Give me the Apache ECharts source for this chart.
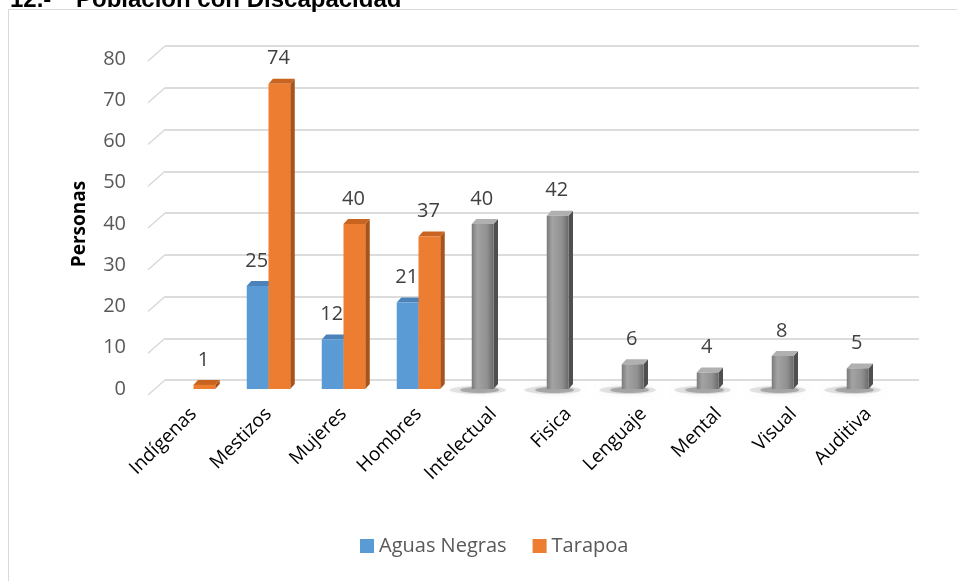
<!DOCTYPE html>
<html>
<head>
<meta charset="utf-8">
<script src="https://cdn.jsdelivr.net/npm/echarts@6/dist/echarts.min.js"></script>
<style>
html,body{margin:0;padding:0;background:#fff;}
#c{width:957px;height:581px;}
</style>
</head>
<body>
<div id="c"></div>
<script>
var titleNumber = '12.-';
var titleText = 'Población con Discapacidad';
var categories = ['Indígenas','Mestizos','Mujeres','Hombres','Intelectual','Fisica','Lenguaje','Mental','Visual','Auditiva'];
var aguasNegras = [null,25,12,21,40,42,6,4,8,5];
var tarapoa = [1,74,40,37,null,null,null,null,null,null];
var grayCategories = ['Intelectual','Fisica','Lenguaje','Mental','Visual','Auditiva'];
var yTicks = [0,10,20,30,40,50,60,70,80];

var chart = echarts.init(document.getElementById('c'));

var DX = 4.5, DY = 5;
var palette = {
  blue: {front:'#5B9BD5', side:'#3f74a8', top:'#4a82b9'},
  orange: {front:'#ED7D31', side:'#a9531b', top:'#c8641f'},
  gray: {front:new echarts.graphic.LinearGradient(0,0,1,0,[
      {offset:0,color:'#7a7a7a'},{offset:0.25,color:'#a3a3a3'},{offset:0.7,color:'#919191'},{offset:1,color:'#6a6a6a'}]),
    side:'#4f4f4f', top:'#b0b0b0'}
};

function makeRender(slot, defaultKey){
  return function(params, api){
    var idx = api.value(0), v = api.value(1);
    if (v == null || isNaN(v)) return null;
    var base = api.coord([idx, 0]);
    var topP = api.coord([idx, v]);
    var band = api.size([1, 0])[0];
    var w = band * 0.29;
    var x0 = slot === 0 ? base[0] - w : base[0];
    var x1 = x0 + w;
    var yb = base[1], yt = topP[1];
    var isGray = grayCategories.indexOf(categories[idx]) >= 0;
    var c = isGray ? palette.gray : palette[defaultKey];
    var children = [];
    if (isGray) {
      var cx = (x0+x1)/2 - 5;
      children.push({type:'ellipse', shape:{cx:cx, cy:yb+1, rx:w*1.3, ry:4},
        style:{fill:'rgba(0,0,0,0.10)', shadowBlur:6, shadowColor:'rgba(0,0,0,0.25)'}});
      children.push({type:'ellipse', shape:{cx:cx+2, cy:yb+1, rx:w*0.9, ry:3},
        style:{fill:'rgba(0,0,0,0.22)', shadowBlur:4, shadowColor:'rgba(0,0,0,0.3)'}});
    }
    children.push({type:'polygon', shape:{points:[[x1,yb],[x1+DX,yb-DY],[x1+DX,yt-DY],[x1,yt]]}, style:{fill:c.side}});
    children.push({type:'polygon', shape:{points:[[x0,yt],[x1,yt],[x1+DX,yt-DY],[x0+DX,yt-DY]]}, style:{fill:c.top}});
    children.push({type:'rect', shape:{x:x0, y:yt, width:w, height:yb-yt}, style:{fill:c.front}});
    children.push({type:'text', style:{text:String(v), x:(x0+x1)/2 - 1, y:yt-15, align:'center', verticalAlign:'bottom',
      fill:'#404040', font:'20px "Open Sans"'}});
    return {type:'group', children:children};
  };
}

var option = {
  animation:false,
  backgroundColor:'#fff',
  graphic:[
    {type:'rect', shape:{x:8.5, y:9.5, width:960, height:580}, style:{fill:'none', stroke:'#d9d9d9', lineWidth:1}, z:-10},
    {type:'text', left:10, top:-12, style:{text:titleNumber, font:'bold 24px "Liberation Sans"', fill:'#000'}},
    {type:'text', left:76, top:-12, style:{text:titleText, font:'bold 24px "Liberation Sans"', fill:'#000'}}
  ],
  legend:{
    bottom:20, left:355, itemWidth:14, itemHeight:14, itemGap:26, icon:'rect',
    textStyle:{fontFamily:'Open Sans', fontSize:20, color:'#595959'},
    data:['Aguas Negras','Tarapoa']
  },
  grid:[
    {left:156, right:51, top:59, bottom:192},
    {left:165, right:38, top:46, bottom:201}
  ],
  xAxis:[
    {type:'category', gridIndex:0, data:categories, axisTick:{show:false}, axisLine:{show:false},
     axisLabel:{rotate:45, margin:22, fontFamily:'Open Sans', fontSize:19, color:'#000', interval:0}},
    {type:'category', gridIndex:1, data:categories, show:false}
  ],
  yAxis:[
    {type:'value', gridIndex:0, min:0, max:80, interval:10, splitLine:{show:false}, axisLine:{show:false}, axisTick:{show:false},
     name:'Personas', nameLocation:'middle', nameGap:67, nameTextStyle:{fontFamily:'Open Sans', fontWeight:'bold', fontSize:19, color:'#000'},
     axisLabel:{margin:30, fontFamily:'Open Sans', fontSize:20, color:'#595959'}},
    {type:'value', gridIndex:1, min:0, max:80, interval:10, axisLabel:{show:false}, axisLine:{show:false}, axisTick:{show:false},
     splitLine:{show:true, lineStyle:{color:'#dcdcdc', width:2}}}
  ],
  series:[
    {type:'custom', name:'stubs', xAxisIndex:1, yAxisIndex:1, silent:true, legendHoverLink:false,
     data:yTicks.map(function(t){return [0,t];}),
     renderItem:function(params, api){
       var p = api.coord([0, api.value(1)]);
       var band = api.size([1,0])[0];
       var xl = p[0] - band/2;
       return {type:'line', shape:{x1:xl-17, y1:p[1]+15, x2:xl, y2:p[1]}, style:{stroke:'#d9d9d9', lineWidth:1.5}};
     }},
    {type:'custom', name:'Aguas Negras', xAxisIndex:0, yAxisIndex:0, itemStyle:{color:'#5B9BD5'},
     data:aguasNegras.map(function(v,i){return [i,v];}), renderItem:makeRender(0,'blue')},
    {type:'custom', name:'Tarapoa', xAxisIndex:0, yAxisIndex:0, itemStyle:{color:'#ED7D31'},
     data:tarapoa.map(function(v,i){return [i,v];}), renderItem:makeRender(1,'orange')}
  ]
};
chart.setOption(option);
</script>
</body>
</html>
